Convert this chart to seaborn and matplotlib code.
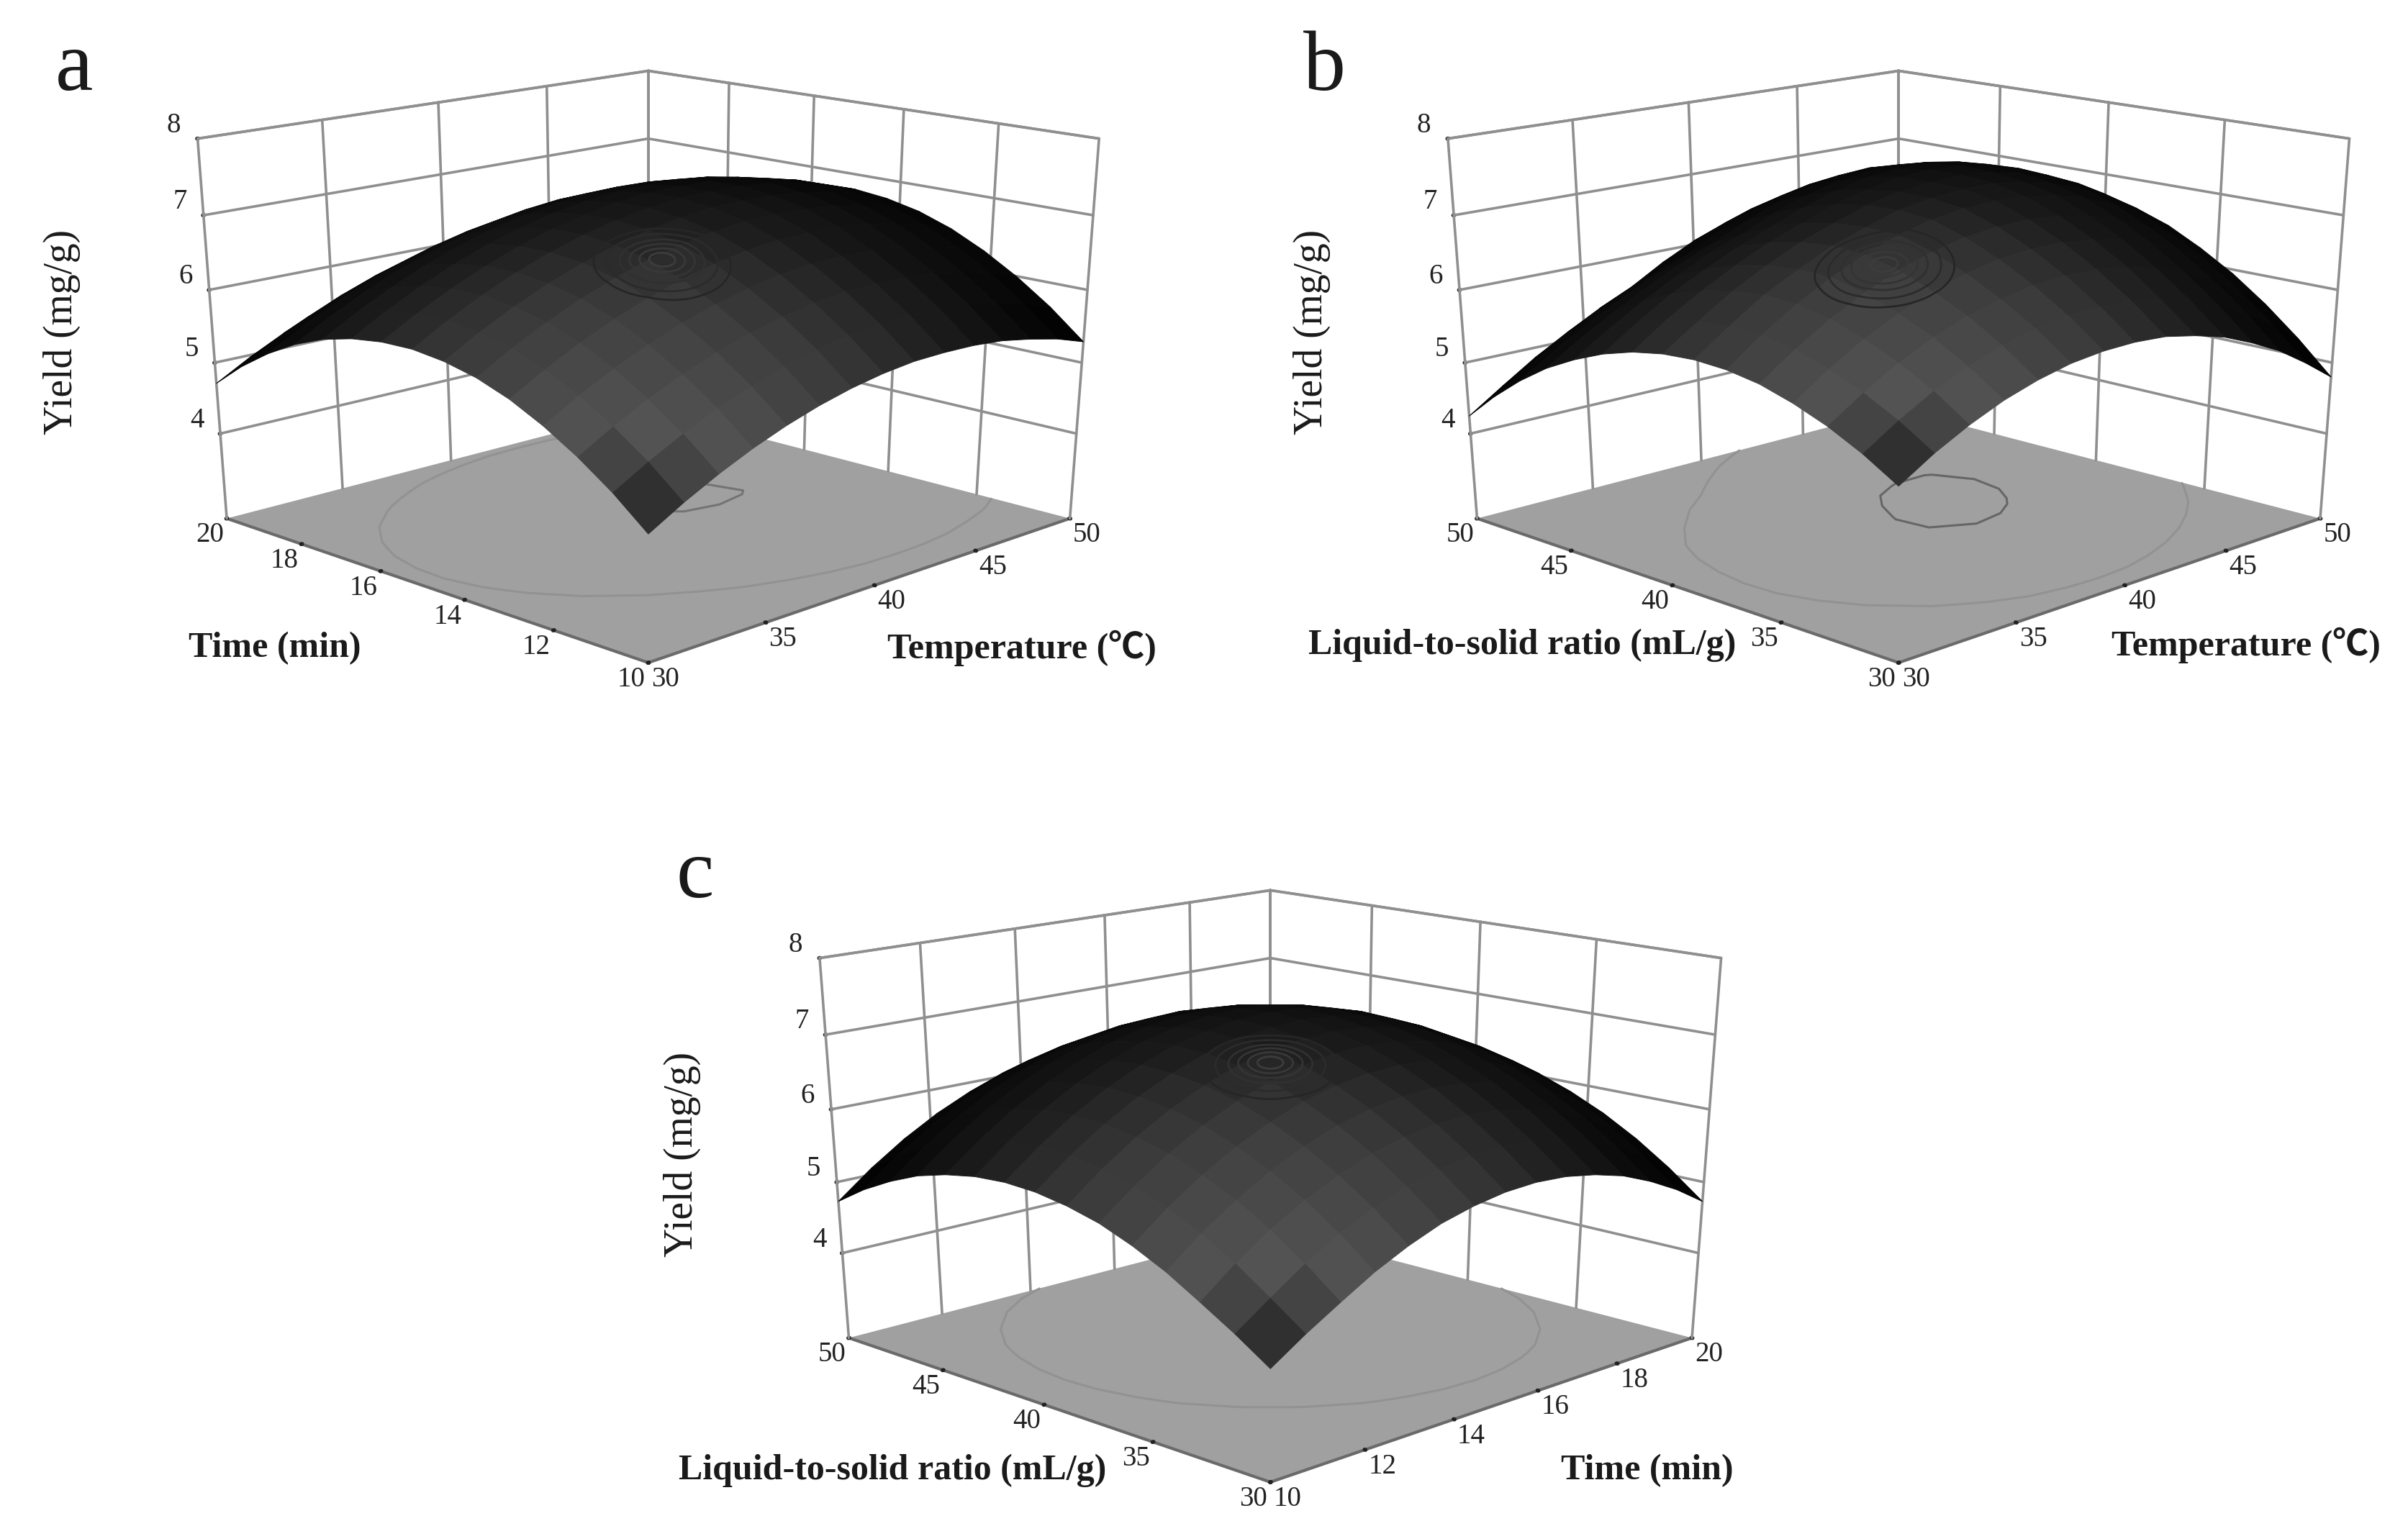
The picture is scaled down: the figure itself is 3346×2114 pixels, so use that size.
import numpy as np
import matplotlib
matplotlib.use("Agg")
import matplotlib.pyplot as plt
import seaborn as sns

W, H = 3346, 2114
K = 3346 / 1560  # overview px -> full px

temp_ticks = [30, 35, 40, 45, 50]
time_ticks = [10, 12, 14, 16, 18, 20]
ratio_ticks = [30, 35, 40, 45, 50]
z_ticks = [4, 5, 6, 7, 8]

yield_a = [
    [4.41, 4.67, 4.90, 5.10, 5.27, 5.41, 5.52, 5.60, 5.65, 5.66, 5.65, 5.61, 5.53, 5.43, 5.29],
    [4.79, 5.05, 5.28, 5.48, 5.65, 5.79, 5.90, 5.98, 6.03, 6.04, 6.03, 5.99, 5.91, 5.81, 5.67],
    [5.11, 5.37, 5.60, 5.80, 5.97, 6.11, 6.22, 6.30, 6.35, 6.36, 6.35, 6.31, 6.23, 6.13, 5.99],
    [5.38, 5.64, 5.87, 6.07, 6.24, 6.38, 6.49, 6.57, 6.62, 6.63, 6.62, 6.58, 6.50, 6.40, 6.26],
    [5.60, 5.86, 6.09, 6.29, 6.46, 6.60, 6.71, 6.79, 6.84, 6.85, 6.84, 6.80, 6.72, 6.62, 6.48],
    [5.76, 6.02, 6.25, 6.45, 6.62, 6.76, 6.87, 6.95, 7.00, 7.01, 7.00, 6.96, 6.88, 6.78, 6.64],
    [5.86, 6.12, 6.35, 6.55, 6.72, 6.86, 6.97, 7.05, 7.10, 7.11, 7.10, 7.06, 6.98, 6.88, 6.74],
    [5.91, 6.17, 6.40, 6.60, 6.77, 6.91, 7.02, 7.10, 7.15, 7.16, 7.15, 7.11, 7.03, 6.93, 6.79],
    [5.90, 6.16, 6.39, 6.59, 6.76, 6.90, 7.01, 7.09, 7.14, 7.15, 7.14, 7.10, 7.02, 6.92, 6.78],
    [5.84, 6.10, 6.33, 6.53, 6.70, 6.84, 6.95, 7.03, 7.08, 7.09, 7.08, 7.04, 6.96, 6.86, 6.72],
    [5.73, 5.99, 6.22, 6.42, 6.59, 6.73, 6.84, 6.92, 6.97, 6.98, 6.97, 6.93, 6.85, 6.75, 6.61],
    [5.56, 5.82, 6.05, 6.25, 6.42, 6.56, 6.67, 6.75, 6.80, 6.81, 6.80, 6.76, 6.68, 6.58, 6.44],
    [5.33, 5.59, 5.82, 6.02, 6.19, 6.33, 6.44, 6.52, 6.57, 6.58, 6.57, 6.53, 6.45, 6.35, 6.21],
    [5.05, 5.31, 5.54, 5.74, 5.91, 6.05, 6.16, 6.24, 6.29, 6.30, 6.29, 6.25, 6.17, 6.07, 5.93],
    [4.71, 4.97, 5.20, 5.40, 5.57, 5.71, 5.82, 5.90, 5.95, 5.96, 5.95, 5.91, 5.83, 5.73, 5.59],
]
yield_b = [
    [5.00, 5.28, 5.51, 5.70, 5.84, 5.94, 5.99, 6.00, 5.97, 5.88, 5.76, 5.58, 5.37, 5.10, 4.80],
    [5.27, 5.56, 5.81, 6.00, 6.16, 6.27, 6.33, 6.35, 6.33, 6.25, 6.14, 5.98, 5.78, 5.52, 5.23],
    [5.49, 5.79, 6.05, 6.26, 6.43, 6.54, 6.62, 6.65, 6.64, 6.58, 6.47, 6.32, 6.13, 5.89, 5.61],
    [5.66, 5.97, 6.24, 6.46, 6.64, 6.77, 6.86, 6.90, 6.90, 6.85, 6.76, 6.62, 6.44, 6.21, 5.94],
    [5.79, 6.11, 6.39, 6.62, 6.81, 6.95, 7.05, 7.10, 7.11, 7.07, 6.99, 6.86, 6.69, 6.47, 6.21],
    [5.86, 6.19, 6.48, 6.72, 6.92, 7.08, 7.19, 7.25, 7.27, 7.24, 7.18, 7.06, 6.90, 6.69, 6.44],
    [5.88, 6.20, 6.50, 6.73, 6.94, 7.09, 7.23, 7.30, 7.34, 7.34, 7.28, 7.18, 7.04, 6.84, 6.60],
    [5.85, 6.16, 6.45, 6.69, 6.90, 7.06, 7.21, 7.31, 7.36, 7.38, 7.34, 7.25, 7.12, 6.95, 6.72],
    [5.77, 6.09, 6.36, 6.60, 6.81, 6.98, 7.14, 7.26, 7.35, 7.37, 7.35, 7.27, 7.16, 6.99, 6.78],
    [5.64, 5.95, 6.23, 6.46, 6.67, 6.85, 7.02, 7.17, 7.27, 7.31, 7.31, 7.25, 7.14, 6.99, 6.80],
    [5.46, 5.76, 6.03, 6.27, 6.49, 6.66, 6.86, 7.02, 7.14, 7.21, 7.21, 7.17, 7.08, 6.95, 6.76],
    [5.24, 5.54, 5.80, 6.04, 6.26, 6.45, 6.66, 6.84, 6.98, 7.06, 7.09, 7.05, 6.98, 6.86, 6.67],
    [4.96, 5.26, 5.53, 5.77, 6.00, 6.19, 6.42, 6.61, 6.76, 6.86, 6.90, 6.88, 6.82, 6.71, 6.54],
    [4.63, 4.93, 5.21, 5.46, 5.70, 5.90, 6.14, 6.35, 6.51, 6.62, 6.68, 6.67, 6.62, 6.52, 6.37],
    [4.25, 4.56, 4.86, 5.12, 5.36, 5.57, 5.83, 6.05, 6.22, 6.35, 6.41, 6.41, 6.37, 6.28, 6.15],
]
yield_c = [
    [4.22, 4.52, 4.79, 5.05, 5.26, 5.43, 5.54, 5.61, 5.63, 5.60, 5.52, 5.40, 5.22, 5.00, 4.73],
    [4.52, 4.84, 5.15, 5.41, 5.62, 5.79, 5.90, 5.97, 5.99, 5.96, 5.88, 5.76, 5.58, 5.36, 5.09],
    [4.79, 5.15, 5.46, 5.72, 5.93, 6.10, 6.21, 6.28, 6.30, 6.27, 6.19, 6.07, 5.89, 5.67, 5.40],
    [5.05, 5.41, 5.72, 5.98, 6.19, 6.36, 6.47, 6.54, 6.56, 6.53, 6.45, 6.33, 6.15, 5.93, 5.66],
    [5.26, 5.62, 5.93, 6.19, 6.40, 6.57, 6.68, 6.75, 6.77, 6.74, 6.66, 6.54, 6.36, 6.14, 5.87],
    [5.43, 5.79, 6.10, 6.36, 6.57, 6.74, 6.85, 6.92, 6.94, 6.91, 6.83, 6.71, 6.53, 6.31, 6.04],
    [5.54, 5.90, 6.21, 6.47, 6.68, 6.85, 6.96, 7.03, 7.05, 7.02, 6.94, 6.82, 6.64, 6.42, 6.15],
    [5.61, 5.97, 6.28, 6.54, 6.75, 6.92, 7.03, 7.10, 7.12, 7.09, 7.01, 6.89, 6.71, 6.49, 6.22],
    [5.63, 5.99, 6.30, 6.56, 6.77, 6.94, 7.05, 7.12, 7.14, 7.11, 7.03, 6.91, 6.73, 6.51, 6.24],
    [5.60, 5.96, 6.27, 6.53, 6.74, 6.91, 7.02, 7.09, 7.11, 7.08, 7.00, 6.88, 6.70, 6.48, 6.21],
    [5.52, 5.88, 6.19, 6.45, 6.66, 6.83, 6.94, 7.01, 7.03, 7.00, 6.92, 6.80, 6.62, 6.40, 6.13],
    [5.40, 5.76, 6.07, 6.33, 6.54, 6.71, 6.82, 6.89, 6.91, 6.88, 6.80, 6.68, 6.50, 6.28, 6.01],
    [5.22, 5.58, 5.89, 6.15, 6.36, 6.53, 6.64, 6.71, 6.73, 6.70, 6.62, 6.50, 6.32, 6.10, 5.83],
    [5.00, 5.36, 5.67, 5.93, 6.14, 6.31, 6.42, 6.49, 6.51, 6.48, 6.40, 6.28, 6.10, 5.88, 5.61],
    [4.73, 5.09, 5.40, 5.66, 5.87, 6.04, 6.15, 6.22, 6.24, 6.21, 6.13, 6.01, 5.83, 5.61, 5.34],
]
# contour levels on the floor
floor_a = [(7.14, "#747474"), (6.08, "#929292")]
floor_b = [(7.30, "#666666"), (6.26, "#929292")]
floor_c = [(6.14, "#929292")]

sns.set_theme(style="white")
plt.rcParams["font.family"] = ["Liberation Serif", "Noto Sans CJK SC"]


def cell_colors(n):
    u = np.linspace(-1, 1, n)
    u = (u[:-1] + u[1:]) / 2
    U, V = np.meshgrid(u, u)
    s = (U + V + 2) / 4
    g = np.interp(s, [0, .04, .1, .25, .45, .65, 1], [.1, .2, .33, .25, .11, .04, .0])
    g = g * (1 - (np.abs(U - V) / 2) ** 2)
    return np.dstack([g, g, g, np.ones_like(g)])


def height_at(Z, u, v):
    n = Z.shape[0] - 1
    i = (u + 1) / 2 * n
    j = (v + 1) / 2 * n
    i0 = np.clip(i.astype(int), 0, n - 1)
    j0 = np.clip(j.astype(int), 0, n - 1)
    di, dj = i - i0, j - j0
    return (Z[j0, i0] * (1 - di) * (1 - dj) + Z[j0, i0 + 1] * di * (1 - dj)
            + Z[j0 + 1, i0] * (1 - di) * dj + Z[j0 + 1, i0 + 1] * di * dj)


def panel(cx, cy, xt, yt, values, floor_levels, ring_uv, letter, lpos, xlab, xpos, ylab, ypos, zpos):
    Z = np.array(values)
    S = 1409
    Sh = 986
    left = cx * K - S * 0.5135
    bottom = H - cy * K - Sh * 0.5135
    ax = fig.add_axes([left / W, bottom / H, S / W, Sh / H], projection="3d")
    ax.apply_aspect = lambda position=None: None  # image is squashed vertically
    ax.computed_zorder = False
    ax.patch.set_alpha(0)
    ax.set_proj_type("persp", focal_length=0.53)
    ax.view_init(elev=19.7, azim=-135)
    ax.set_box_aspect((1, 1, 0.935))
    x0, x1, y0, y1, z0, z1 = xt[0], xt[-1], yt[0], yt[-1], 2.77, 8
    ax.set_xlim(x0, x1, view_margin=0)
    ax.set_ylim(y0, y1, view_margin=0)
    ax.set_zlim(z0, z1, view_margin=0)
    ax.grid(False)
    ax.xaxis.set_pane_color("white")
    ax.yaxis.set_pane_color("white")
    ax.zaxis.set_pane_color("#a0a0a0")
    for a in (ax.xaxis, ax.yaxis, ax.zaxis):
        a.pane.set_edgecolor("none")
        a._axinfo["tick"].update({"inward_factor": 0.012, "outward_factor": 0.012,
                                  "linewidth": {True: 4, False: 4}})
    ax.xaxis.line.set_color("#6a6a6a")
    ax.yaxis.line.set_color("#6a6a6a")
    ax.xaxis.line.set_linewidth(3)
    ax.yaxis.line.set_linewidth(3)
    ax.zaxis.line.set_color("#8f8f8f")
    grid_kw = dict(color="#8f8f8f", lw=2.6, zorder=1)
    for t in z_ticks:
        ax.plot([x0, x1], [y1, y1], [t, t], **grid_kw)
        ax.plot([x1, x1], [y0, y1], [t, t], **grid_kw)
    for t in xt:
        ax.plot([t, t], [y1, y1], [z0, z1], **grid_kw)
    for t in yt:
        ax.plot([x1, x1], [t, t], [z0, z1], **grid_kw)
    ax.plot([x0, x1], [y1, y1], [z1, z1], **grid_kw)
    ax.plot([x1, x1], [y0, y1], [z1, z1], **grid_kw)

    n = Z.shape[0]
    X, Y = np.meshgrid(np.linspace(x0, x1, n), np.linspace(y0, y1, n))
    for lev, col in floor_levels:
        ax.contour(X, Y, Z, levels=[lev], zdir="z", offset=z0, colors=[col], linewidths=2.2, zorder=2)
    ax.plot_surface(X, Y, Z, rstride=1, cstride=1, facecolors=cell_colors(n), shade=False,
                    linewidth=0.7, antialiased=True, zorder=5)

    # moire rings of the dense mesh in the original
    th = np.linspace(0, 2 * np.pi, 90)
    for r, col in zip([.04, .07, .10, .13, .17, .21], ["#3c3c3c", "#383838", "#343434", "#303030", "#2b2b2b", "#262626"]):
        u = ring_uv[0] + r * np.cos(th)
        v = ring_uv[1] + r * np.sin(th)
        ax.plot(x0 + (u + 1) / 2 * (x1 - x0), y0 + (v + 1) / 2 * (y1 - y0), height_at(Z, u, v),
                color=col, lw=2, zorder=6)

    ax.set_xticks(xt)
    ax.set_yticks(yt)
    ax.set_zticks(z_ticks)
    ax.tick_params(labelsize=28, colors="#222222")
    ax.tick_params(axis="x", pad=-5)
    ax.tick_params(axis="y", pad=-5)
    ax.tick_params(axis="z", pad=4)
    for lab in ax.xaxis.get_ticklabels():
        lab.set_ha("left")
    for lab in ax.yaxis.get_ticklabels():
        lab.set_ha("right")
    for lab in ax.zaxis.get_ticklabels():
        lab.set_va("bottom")

    def txt(pos, s, **kw):
        fig.text(pos[0] * K / W, 1 - pos[1] * K / H, s, ha="center", va="center", color="#1a1a1a", **kw)

    txt(lpos, letter, fontsize=85)
    txt(xpos, xlab, fontsize=36, weight="bold")
    txt(ypos, ylab, fontsize=36, weight="bold")
    txt(zpos, "Yield (mg/g)", fontsize=40, rotation=90)
    return ax


fig = plt.figure(figsize=(W / 100, H / 100), dpi=100, facecolor="white")

T = "Temperature (\u2103)"
L = "Liquid-to-solid ratio (mL/g)"
M = "Time (min)"
panel(420, 217, temp_ticks, time_ticks, yield_a, floor_a, (-.25, -.31), "a", (48, 45), M, (178, 420), T, (662, 420), (40, 215))
panel(1230, 217, temp_ticks, ratio_ticks, yield_b, floor_b, (-.43, -.37), "b", (858, 45), L, (986, 418), T, (1455, 418), (850, 215))
panel(823, 748, time_ticks, ratio_ticks, yield_c, floor_c, (-.2, -.2), "c", (450, 568), L, (578, 953), M, (1067, 953), (442, 748))

fig.savefig("out.png", dpi=100)
